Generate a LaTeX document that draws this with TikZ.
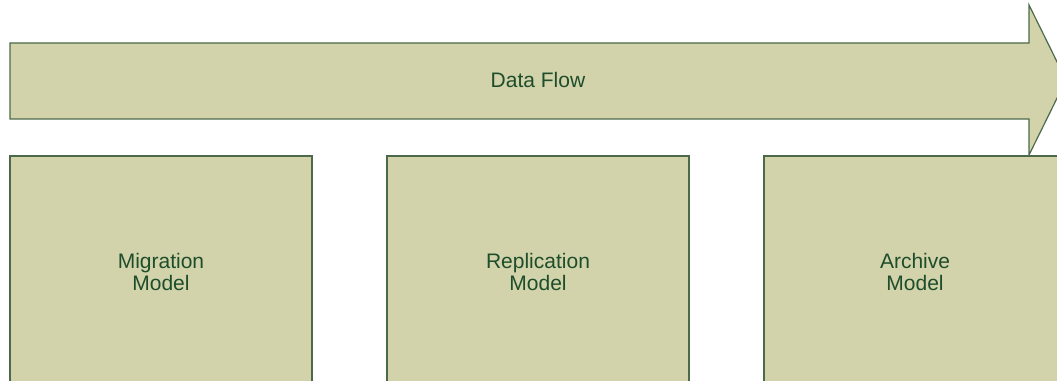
\documentclass[tikz,border=0pt]{standalone}
\usepackage{fontspec}
\setmainfont{Liberation Sans}
\usepackage{tikz}
\definecolor{boxfill}{RGB}{210,211,171}
\definecolor{boxline}{RGB}{76,106,74}
\definecolor{boxtext}{RGB}{30,77,43}

\begin{document}
\begin{tikzpicture}[x=1pt,y=1pt]
	\path[use as bounding box, clip] (0,0) rectangle (1057,380);
	\fill[white] (0,0) rectangle (1057,380);
	% the flow arrow
	\draw[fill=boxfill, draw=boxline, line width=1.2pt]
		(10,337) -- (1029,337) -- (1029,375) -- (1066,300)
		-- (1029,225) -- (1029,261) -- (10,261) -- cycle;
	\node[text=boxtext, font=\fontsize{21}{22.5}\selectfont] (F) at (538,300) {Data Flow};
	\begin{scope}[every node/.style = {rectangle, draw=boxline, fill=boxfill,
			line width=1.2pt, minimum width=302pt, minimum height=232pt,
			align=center, text=boxtext, font=\fontsize{21}{22.5}\selectfont}]
		\node (M) at (161,108) {Migration\\Model};
		\node (R) at (538,108) {Replication\\Model};
		\node (A) at (915,108) {Archive\\Model};
	\end{scope}
\end{tikzpicture}
\end{document}
